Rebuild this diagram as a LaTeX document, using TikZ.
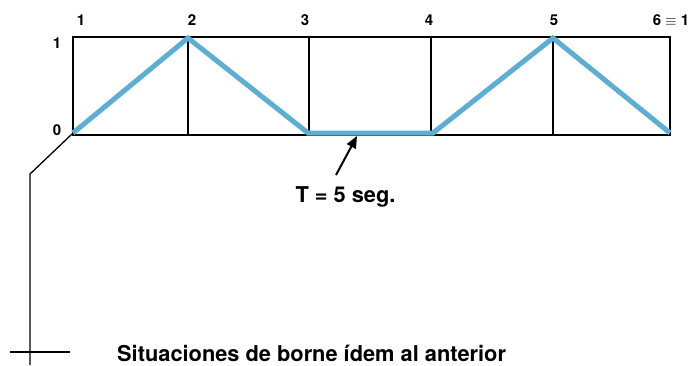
\documentclass[tikz,border=0pt]{standalone}
\usepackage{fontspec}
\setmainfont{TeX Gyre Heros}
\usetikzlibrary{arrows.meta}
\definecolor{wave}{RGB}{92,174,210}
\tikzset{
  grid line/.style={black, line width=2pt},
  wave line/.style={wave, line width=5pt, line join=miter},
  lbl/.style={font=\fontsize{15}{18}\selectfont\bfseries, inner sep=0pt},
  big/.style={font=\fontsize{21.8}{26}\selectfont\bfseries, inner sep=0pt},
  leader/.style={black, line width=1.3pt}
}
\begin{document}
\begin{tikzpicture}[x=1pt,y=-1pt]
\useasboundingbox (0,0) rectangle (693,365);
% grid coordinates
\foreach \n/\x in {a/73,b/188,c/309,d/431,e/553,f/670}{
  \coordinate (\n t) at (\x,37);
  \coordinate (\n b) at (\x,135);
}
\draw[grid line] (at) rectangle (fb);
\foreach \n in {b,c,d,e}{ \draw[grid line] (\n t) -- (\n b); }
% wave
\coordinate (w0) at (73,133);
\coordinate (w1) at (188,38);
\coordinate (w2) at (308,133);
\coordinate (w3) at (433,133);
\coordinate (w4) at (553,38);
\coordinate (w5) at (670,133);
\draw[wave line] (w0) -- (w1) -- (w2) -- (w3) -- (w4) -- (w5);
% labels
\node[lbl] (l1) at (81,20) {1};
\node[lbl] (l2) at (192,20) {2};
\node[lbl] (l3) at (305,20) {3};
\node[lbl] (l4) at (429,20) {4};
\node[lbl] (l5) at (554,20) {5};
\node[lbl] (l6) at (671,20) {6 $\equiv$ 1};
\node[lbl] (y1) at (57,43) {1};
\node[lbl] (y0) at (57,130) {0};
% period
\node[big] (T) at (345.5,197) {T = 5 seg.};
\coordinate (arrtail) at (336,175);
\coordinate (arrtip) at (357,136);
\draw[black, line width=2pt, -{Triangle[length=12pt,width=10pt]}] (arrtail) -- (arrtip);
% leader
\coordinate (k0) at (72,134);
\coordinate (k1) at (30,174);
\coordinate (k2) at (30,365);
\coordinate (h1) at (10,352);
\coordinate (h2) at (70,352);
\draw[leader] (k0) -- (k1) -- (k2);
\draw[leader] (h1) -- (h2);
\node[big, anchor=west] (S) at (117,353) {Situaciones de borne ídem al anterior};
\end{tikzpicture}
\end{document}
